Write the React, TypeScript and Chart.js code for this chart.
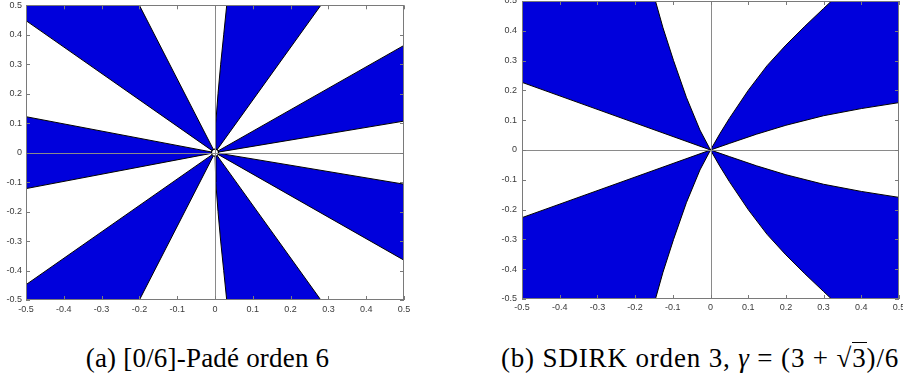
import React, { useEffect, useRef } from 'react';
import { Chart, registerables } from 'chart.js';

Chart.register(...registerables);

// Axis ticks (both panels)
const tickValues = [-0.5, -0.4, -0.3, -0.2, -0.1, 0, 0.1, 0.2, 0.3, 0.4, 0.5];
const tickLabels = ['-0.5', '-0.4', '-0.3', '-0.2', '-0.1', '0', '0.1', '0.2', '0.3', '0.4', '0.5'];

// Panel (a): [0/6]-Padé order star, boundary points of each blue region (x, y)
const padeNegReal = [[0, 0], [-0.5, 0.122], [-0.5, -0.122], [0, 0]];
const padeUpperLeft = [[0, 0], [-0.5, 0.448], [-0.5, 0.5], [-0.2, 0.5], [0, 0]];
const padeUpperMid = [[0, 0], [0.002, 0.1], [0.008, 0.2], [0.015, 0.3], [0.023, 0.4], [0.031, 0.5], [0.28, 0.5], [0, 0]];
const padeUpperRight = [[0, 0], [0.5, 0.107], [0.5, 0.364], [0, 0]];
const padeLowerRight = [[0, 0], [0.5, -0.107], [0.5, -0.365], [0, 0]];
const padeLowerMid = [[0, 0], [0.002, -0.1], [0.008, -0.2], [0.015, -0.3], [0.023, -0.4], [0.031, -0.5], [0.28, -0.5], [0, 0]];
const padeLowerLeft = [[0, 0], [-0.5, -0.448], [-0.5, -0.5], [-0.2, -0.5], [0, 0]];
const padeOrigin = [[0, 0]];

// Panel (b): SDIRK order 3 order star
const sdirkUpperLeft = [[0, 0], [-0.5, 0.227], [-0.5, 0.5], [-0.146, 0.5], [-0.126, 0.41], [-0.098, 0.3], [-0.064, 0.177], [-0.028, 0.067], [0, 0]];
const sdirkUpperRight = [
  [0, 0], [0.05, 0.022], [0.122, 0.053], [0.2, 0.083], [0.3, 0.115], [0.4, 0.139], [0.5, 0.159],
  [0.5, 0.5], [0.321, 0.5], [0.3, 0.475], [0.25, 0.415], [0.2, 0.352], [0.15, 0.283], [0.1, 0.2], [0.05, 0.106], [0.025, 0.055], [0, 0],
];
const sdirkLowerRight = [
  [0, 0], [0.05, -0.022], [0.122, -0.053], [0.2, -0.083], [0.3, -0.115], [0.4, -0.139], [0.5, -0.159],
  [0.5, -0.5], [0.321, -0.5], [0.3, -0.475], [0.25, -0.415], [0.2, -0.352], [0.15, -0.283], [0.1, -0.2], [0.05, -0.106], [0.025, -0.055], [0, 0],
];
const sdirkLowerLeft = [[0, 0], [-0.5, -0.227], [-0.5, -0.5], [-0.146, -0.5], [-0.126, -0.41], [-0.098, -0.3], [-0.064, -0.177], [-0.028, -0.067], [0, 0]];

const BLUE = 'rgb(0,0,220)';
const AXIS_GRAY = '#8a8a8a';

const toPts = (a: number[][]) => a.map(([x, y]) => ({ x, y }));
const onFrame = (a: any, b: any) =>
  (Math.abs(a.x) >= 0.5 && Math.abs(b.x) >= 0.5) || (Math.abs(a.y) >= 0.5 && Math.abs(b.y) >= 0.5);

function wedge(points: number[][]) {
  return {
    data: toPts(points),
    showLine: true,
    fill: false,
    polyFill: BLUE,
    backgroundColor: BLUE,
    borderColor: '#000',
    borderWidth: 1,
    pointRadius: 0,
    pointHoverRadius: 0,
    tension: 0,
    segment: {
      borderColor: (ctx: any) => (onFrame(ctx.p0.parsed, ctx.p1.parsed) ? 'rgba(0,0,0,0)' : undefined),
    },
  };
}

// Fills each closed boundary (from the library-computed point positions) before its outline is drawn
const polyFillPlugin = {
  id: 'polyFill',
  beforeDatasetDraw(chart: any, args: any) {
    const ds = chart.data.datasets[args.index];
    if (!ds || !ds.polyFill) return;
    const pts = args.meta.data;
    if (!pts || pts.length < 3) return;
    const { ctx, chartArea: a } = chart;
    ctx.save();
    ctx.beginPath();
    ctx.rect(a.left, a.top, a.right - a.left, a.bottom - a.top);
    ctx.clip();
    ctx.beginPath();
    pts.forEach((p: any, i: number) => (i ? ctx.lineTo(p.x, p.y) : ctx.moveTo(p.x, p.y)));
    ctx.closePath();
    ctx.fillStyle = ds.polyFill;
    ctx.fill();
    ctx.restore();
  },
};

const framePlugin = {
  id: 'matlabFrame',
  afterDatasetsDraw(chart: any) {
    const { ctx, chartArea: a, scales } = chart;
    const x = scales.x;
    const y = scales.y;
    ctx.save();
    ctx.lineWidth = 1;
    ctx.strokeStyle = AXIS_GRAY;
    const x0 = Math.round(x.getPixelForValue(0)) + 0.5;
    const y0 = Math.round(y.getPixelForValue(0)) + 0.5;
    ctx.beginPath();
    ctx.moveTo(x0, a.top);
    ctx.lineTo(x0, a.bottom);
    ctx.moveTo(a.left, y0);
    ctx.lineTo(a.right, y0);
    ctx.stroke();
    ctx.strokeStyle = '#7a7a7a';
    ctx.strokeRect(Math.round(a.left) + 0.5, Math.round(a.top) + 0.5, Math.round(a.right - a.left) - 1, Math.round(a.bottom - a.top) - 1);
    const L = 4;
    ctx.beginPath();
    tickValues.forEach((v) => {
      const px = Math.round(x.getPixelForValue(v)) + 0.5;
      ctx.moveTo(px, a.bottom);
      ctx.lineTo(px, a.bottom - L);
      ctx.moveTo(px, a.top);
      ctx.lineTo(px, a.top + L);
      const py = Math.round(y.getPixelForValue(v)) + 0.5;
      ctx.moveTo(a.left, py);
      ctx.lineTo(a.left + L, py);
      ctx.moveTo(a.right, py);
      ctx.lineTo(a.right - L, py);
    });
    ctx.stroke();
    ctx.restore();
  },
};

function makeOptions(yWidth: number, xHeight: number, pad: any, xPad: number, yPad: number) {
  const fmt = (v: any) => {
    const i = Math.round((Number(v) + 0.5) * 10);
    return tickLabels[i] ?? '';
  };
  const tickFont = { family: 'Liberation Sans, Arial, sans-serif', size: 9 };
  return {
    responsive: false,
    animation: false as const,
    events: [] as any[],
    layout: { padding: pad },
    plugins: { legend: { display: false }, tooltip: { enabled: false } },
    scales: {
      x: {
        type: 'linear' as const,
        min: -0.5,
        max: 0.5,
        grid: { display: false, drawTicks: false },
        border: { display: false },
        ticks: { stepSize: 0.1, callback: fmt, font: tickFont, color: '#3a3a3a', padding: xPad, maxRotation: 0, autoSkip: false },
        afterFit: (s: any) => {
          s.height = xHeight;
          s.paddingLeft = 0;
          s.paddingRight = 0;
        },
      },
      y: {
        type: 'linear' as const,
        min: -0.5,
        max: 0.5,
        grid: { display: false, drawTicks: false },
        border: { display: false },
        ticks: { stepSize: 0.1, callback: fmt, font: tickFont, color: '#3a3a3a', padding: yPad, autoSkip: false },
        afterFit: (s: any) => {
          s.width = yWidth;
          s.paddingTop = 0;
          s.paddingBottom = 0;
        },
      },
    },
  };
}

function OrderStar(props: { datasets: any[]; width: number; height: number; yWidth: number; xHeight: number; pad: any; xPad: number; yPad: number; style: any }) {
  const ref = useRef<HTMLCanvasElement | null>(null);
  useEffect(() => {
    if (!ref.current) return;
    const chart = new Chart(ref.current, {
      type: 'scatter',
      data: { datasets: props.datasets },
      options: makeOptions(props.yWidth, props.xHeight, props.pad, props.xPad, props.yPad) as any,
      plugins: [polyFillPlugin, framePlugin],
    });
    return () => chart.destroy();
  }, []);
  return <canvas ref={ref} width={props.width} height={props.height} style={{ position: 'absolute', ...props.style }} />;
}

export default function App() {
  const padeSets = [
    {
      data: toPts(padeOrigin),
      pointRadius: 3.5,
      pointBackgroundColor: '#fff',
      pointBorderColor: '#000',
      pointBorderWidth: 1.3,
      showLine: false,
    },
    wedge(padeNegReal),
    wedge(padeUpperLeft),
    wedge(padeUpperMid),
    wedge(padeUpperRight),
    wedge(padeLowerRight),
    wedge(padeLowerMid),
    wedge(padeLowerLeft),
  ];
  const sdirkSets = [wedge(sdirkUpperLeft), wedge(sdirkUpperRight), wedge(sdirkLowerRight), wedge(sdirkLowerLeft)];

  const captionStyle: any = {
    position: 'absolute',
    top: 344,
    fontFamily: '"Liberation Serif", "DejaVu Serif", serif',
    fontSize: 27,
    lineHeight: '28px',
    textAlign: 'center',
    whiteSpace: 'nowrap',
    color: '#000',
  };

  return (
    <div style={{ position: 'fixed', left: 0, top: 0, width: 903, height: 392, overflow: 'hidden', background: '#fff' }}>
      <OrderStar
        datasets={padeSets}
        width={420}
        height={325}
        yWidth={26}
        xHeight={25}
        pad={{ left: 0, top: 3, right: 16, bottom: 0 }}
        xPad={4}
        yPad={4}
        style={{ left: 0, top: 0 }}
      />
      <OrderStar
        datasets={sdirkSets}
        width={430}
        height={325}
        yWidth={32}
        xHeight={26}
        pad={{ left: 0, top: 1, right: 21, bottom: 0 }}
        xPad={3}
        yPad={5}
        style={{ left: 490, top: 0 }}
      />
      <div style={{ ...captionStyle, left: 0, width: 415, letterSpacing: '0.2px' }}>(a) [0/6]-Padé orden 6</div>
      <div style={{ ...captionStyle, left: 492, width: 416, letterSpacing: '0.85px' }}>
        (b) SDIRK orden 3, <i>γ</i> = (3 + √<span style={{ borderTop: '1px solid #000' }}>3</span>)/6
      </div>
    </div>
  );
}
